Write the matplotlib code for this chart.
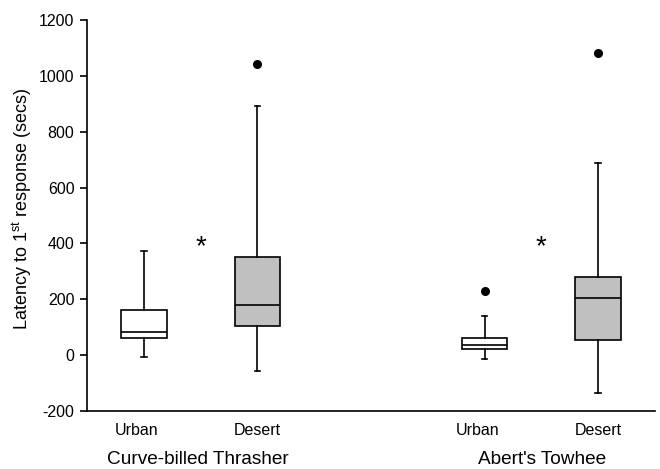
import matplotlib
matplotlib.use("Agg")
import matplotlib.pyplot as plt
import matplotlib.transforms as mtransforms

plt.rcParams['font.family'] = ['Liberation Sans', 'DejaVu Sans']
plt.rcParams['axes.unicode_minus'] = False

# box statistics (secs)
labels = ["Urban", "Desert", "Urban", "Desert"]
species = ["Curve-billed Thrasher", "Abert's Towhee"]
whislo = [-6, -56, -14, -135]
q1 = [60, 103, 23, 55]
med = [82, 181, 36, 203]
q3 = [161, 351, 60, 278]
whishi = [373, 893, 140, 689]
fliers = [[], [1041], [230], [1080]]
star_y = [385, 385]

positions = [1, 3, 7, 9]
colors = ["white", "#c0c0c0", "white", "#c0c0c0"]

stats = []
for i in range(len(labels)):
    stats.append({
        "whislo": whislo[i], "q1": q1[i], "med": med[i],
        "q3": q3[i], "whishi": whishi[i], "fliers": fliers[i],
    })

fig = plt.figure(figsize=(6.6, 4.69), dpi=100)
ax = fig.add_axes([0.1318, 0.1237, 0.8606, 0.8337])

bp = ax.bxp(stats, positions=positions, widths=0.8, patch_artist=True,
            showfliers=True,
            boxprops=dict(linewidth=1.2, edgecolor="black"),
            medianprops=dict(color="black", linewidth=1.2),
            whiskerprops=dict(color="black", linewidth=1.2),
            capprops=dict(color="black", linewidth=1.2),
            capwidths=0.1,
            flierprops=dict(marker="o", markerfacecolor="black",
                            markeredgecolor="black", markersize=5.5))
for patch, c in zip(bp["boxes"], colors):
    patch.set_facecolor(c)

# significance stars
ax.text(2.0, star_y[0], "*", ha="center", va="center", fontsize=20)
ax.text(8.0, star_y[1], "*", ha="center", va="center", fontsize=20)

ax.set_xlim(0, 10)
ax.set_ylim(-200, 1200)
ax.set_yticks(range(-200, 1201, 200))
ax.tick_params(axis="y", direction="out", length=5, width=1.2, labelsize=11.5, pad=4)
ax.set_xticks(positions)
ax.set_xticklabels(labels, fontsize=11.5)
ax.tick_params(axis="x", length=0, pad=9)

# the "Urban" labels sit a little left of their boxes in the original
shift = mtransforms.ScaledTranslation(-7 / 100, 0, fig.dpi_scale_trans)
for lab in ax.get_xticklabels():
    if lab.get_text() == "Urban":
        lab.set_transform(lab.get_transform() + shift)

ax.spines["top"].set_visible(False)
ax.spines["right"].set_visible(False)
ax.spines["left"].set_linewidth(1.2)
ax.spines["bottom"].set_linewidth(1.2)

ax.set_ylabel("Latency to 1$^{\\mathregular{st}}$ response (secs)", fontsize=13)
ax.yaxis.set_label_coords(-0.094, 0.517)

# species labels under each pair
fig.text(198 / 660, 1 / 469, species[0], ha="center", va="bottom", fontsize=13.7)
fig.text(542 / 660, 1 / 469, species[1], ha="center", va="bottom", fontsize=13.7)

fig.savefig("out.png", dpi=100)
